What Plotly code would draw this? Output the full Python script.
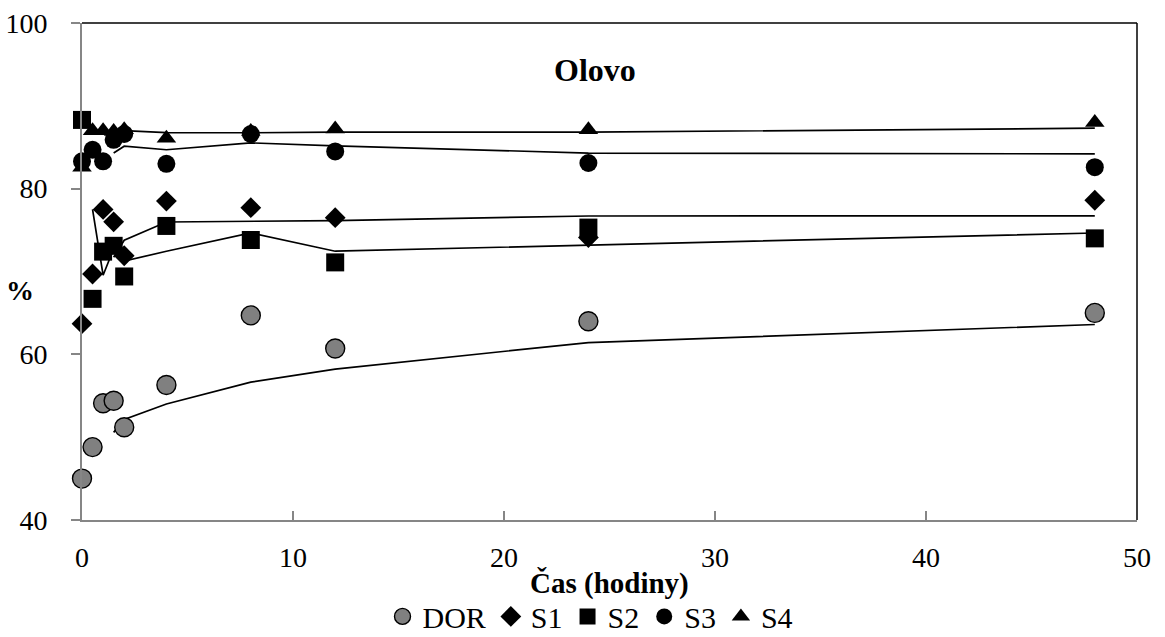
import plotly.graph_objects as go
import pandas as pd

# Data (time in hours, Pb removal in %)
cas = [0, 0.5, 1, 1.5, 2, 4, 8, 12, 24, 48]
DOR = [45.0, 48.8, 54.1, 54.4, 51.2, 56.3, 64.7, 60.7, 64.0, 65.0]
S1 = [63.7, 69.7, 77.5, 76.0, 71.9, 78.5, 77.7, 76.5, 74.1, 78.6]
S2 = [88.3, 66.7, 72.4, 73.1, 69.4, 75.5, 73.8, 71.1, 75.3, 74.0]
S3 = [83.3, 84.7, 83.3, 85.9, 86.6, 83.0, 86.6, 84.5, 83.1, 82.6]
S4 = [82.6, 87.0, 87.0, 86.9, 87.1, 86.1, 86.9, 87.2, 87.1, 88.0]
series_names = ["DOR", "S1", "S2", "S3", "S4"]
series_vals = [DOR, S1, S2, S3, S4]
ma_periods = [4, 4, 2, 4, 4]  # moving-average trendline periods

y_ticks = [40, 60, 80, 100]
x_ticks = [0, 10, 20, 30, 40, 50]

FONT = "Liberation Serif"

styles = {
    "DOR": dict(symbol="circle", size=19, color="#808080", line=dict(color="black", width=1.4)),
    "S1": dict(symbol="diamond", size=16, color="black", line=dict(color="black", width=0)),
    "S2": dict(symbol="square", size=18, color="black", line=dict(color="black", width=0)),
    "S3": dict(symbol="circle", size=18, color="black", line=dict(color="black", width=0)),
    "S4": dict(symbol="triangle-up", size=17, color="black", line=dict(color="black", width=0)),
}

fig = go.Figure()

# Moving-average trendlines (Excel style) computed from the data
for name, vals, p in zip(series_names, series_vals, ma_periods):
    s = pd.Series(vals, index=cas).rolling(p).mean().dropna()
    fig.add_trace(go.Scatter(
        x=list(s.index), y=list(s.values), mode="lines",
        line=dict(color="black", width=1.7), showlegend=False,
        hoverinfo="skip", cliponaxis=False,
    ))

for name, vals in zip(series_names, series_vals):
    fig.add_trace(go.Scatter(
        x=cas, y=vals, mode="markers", name=name,
        marker=styles[name], cliponaxis=False,
    ))

fig.update_layout(
    width=1165, height=637,
    margin=dict(l=82, r=28, t=23, b=117, autoexpand=False),
    paper_bgcolor="white", plot_bgcolor="white",
    font=dict(family=FONT, size=28, color="black"),
    showlegend=True,
    legend=dict(
        orientation="h", x=0.482, xanchor="center", y=-0.194, yanchor="middle",
        font=dict(family=FONT, size=30, color="black"),
        bgcolor="rgba(0,0,0,0)", itemwidth=30, tracegroupgap=0,
    ),
    xaxis=dict(
        range=[0, 50], tickvals=x_ticks, showgrid=False, zeroline=False,
        showline=True, linecolor="#868686", linewidth=2,
        ticks="inside", ticklen=9, tickwidth=1.5, tickcolor="#868686",
        tickfont=dict(family=FONT, size=28, color="black"),
        ticklabelstandoff=11, automargin=False,
    ),
    yaxis=dict(
        range=[40, 100], tickvals=y_ticks, showgrid=False, zeroline=False,
        showline=True, linecolor="#868686", linewidth=2,
        ticks="outside", ticklen=9, tickwidth=1.5, tickcolor="#868686",
        tickfont=dict(family=FONT, size=28, color="black"),
        ticklabelstandoff=18, automargin=False,
    ),
    shapes=[
        dict(type="line", xref="paper", yref="paper", x0=0, x1=1, y0=1, y1=1,
             line=dict(color="black", width=1.5), layer="below"),
        dict(type="line", xref="paper", yref="paper", x0=1, x1=1, y0=0, y1=1,
             line=dict(color="black", width=1.5), layer="below"),
    ],
    annotations=[
        dict(text="<b>Olovo</b>", xref="paper", yref="paper", x=0.486, y=0.905,
             showarrow=False, font=dict(family=FONT, size=32, color="black"),
             xanchor="center", yanchor="middle"),
        dict(text="<b>Čas (hodiny)</b>", xref="paper", yref="paper", x=0.5, y=-0.128,
             showarrow=False, font=dict(family=FONT, size=29, color="black"),
             xanchor="center", yanchor="middle"),
        dict(text="<b>%</b>", xref="paper", yref="paper", x=-0.059, y=0.462,
             showarrow=False, font=dict(family=FONT, size=28, color="black"),
             xanchor="center", yanchor="middle"),
    ],
)

fig.write_html("out.html")
